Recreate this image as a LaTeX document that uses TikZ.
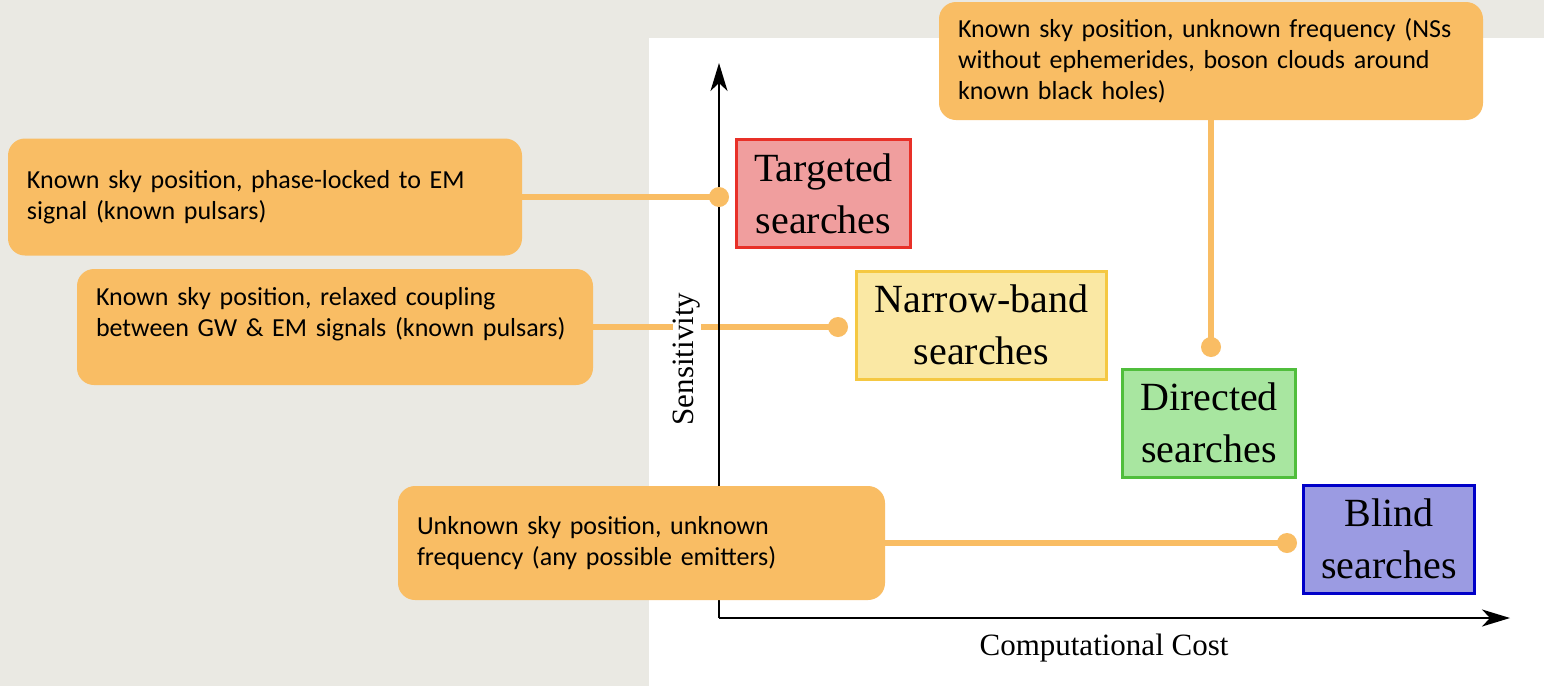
\documentclass[tikz,border=0pt]{standalone}
\usepackage{fontspec}
\setmainfont{Liberation Serif}
\newfontfamily\calloutfont{Carlito}
\usetikzlibrary{
  arrows.meta,
}
\definecolor{stonebg}{RGB}{234,233,227}
\definecolor{calloutfill}{RGB}{249,189,100}
\definecolor{targetfill}{RGB}{240,158,158}
\definecolor{targetline}{RGB}{232,48,40}
\definecolor{narrowfill}{RGB}{250,232,164}
\definecolor{narrowline}{RGB}{245,200,66}
\definecolor{directfill}{RGB}{168,230,160}
\definecolor{directline}{RGB}{80,190,60}
\definecolor{blindfill}{RGB}{155,155,226}
\definecolor{blindline}{RGB}{0,0,200}
\pgfdeclarelayer{panel}
\pgfdeclarelayer{links}
\pgfsetlayers{panel,links,main}
\tikzset{
  >={Stealth[length=28pt,width=17pt,inset=8pt]},
  callout/.style={rectangle,rounded corners=17pt,fill=calloutfill,align=left,
    inner xsep=19pt,inner ysep=0pt,font=\calloutfont\fontsize{26}{31}\selectfont},
  searchbox/.style={rectangle,draw,line width=3pt,minimum width=168pt,minimum height=108pt,
    inner xsep=18pt,align=center,font=\fontsize{40}{52}\selectfont},
  axis/.style={line width=2pt,->},
  axislabel/.style={font=\fontsize{31}{36}\selectfont,inner sep=0pt},
  link/.style={draw=calloutfill,line width=6pt},
  linkdot/.style={circle,fill=calloutfill,minimum size=20pt,inner sep=0pt},
}
\begin{document}
\begin{tikzpicture}[x=1pt,y=-1pt]

      \useasboundingbox (0,0) rectangle (1544,686);
      \begin{pgfonlayer}{panel}
        \fill[stonebg] (0,0) rectangle (1544,686);
        \fill[white] (649,38) rectangle (1544,686);
      \end{pgfonlayer}

      \coordinate (origin) at (719,618);
      \coordinate (ytip) at (719,63);
      \coordinate (xtip) at (1510,618);
      \draw[axis] (origin) -- (ytip);
      \draw[axis] (origin) -- (xtip);

      \node[axislabel] (costlabel) at (1104,648) {Computational Cost};
      \node[axislabel,rotate=90,fill=white] (senslabel) at (687,359) {Sensitivity};

      \node[searchbox,fill=targetfill,draw=targetline] (targeted) at (823.5,193.5) {Targeted\\searches};
      \node[searchbox,fill=narrowfill,draw=narrowline] (narrow) at (981.5,325) {Narrow-band\\searches};
      \node[searchbox,fill=directfill,draw=directline] (directed) at (1209,423) {Directed\\searches};
      \node[searchbox,fill=blindfill,draw=blindline] (blind) at (1389,539) {Blind\\searches};

      \node[callout,text width=476pt,minimum height=117pt] (callTargeted) at (265,197)
        {Known sky position, phase-locked to EM\\signal (known pulsars)};
      \node[callout,text width=478pt,minimum height=116pt] (callNarrow) at (335,327)
        {Known sky position, relaxed coupling\\between GW \& EM signals (known pulsars)\\\mbox{}};
      \node[callout,text width=506pt,minimum height=118pt] (callDirected) at (1211,61)
        {Known sky position, unknown frequency (NSs\\without ephemerides, boson clouds around\\known black holes)};
      \node[callout,text width=449pt,minimum height=114pt] (callBlind) at (641.5,543)
        {Unknown sky position, unknown\\frequency (any possible emitters)};

      \node[linkdot] (dotTargeted) at (719,197) {};
      \node[linkdot] (dotNarrow) at (838,327) {};
      \node[linkdot] (dotDirected) at (1211,347) {};
      \node[linkdot] (dotBlind) at (1287,543) {};

      \begin{pgfonlayer}{links}
        \draw[link] (callTargeted.east) -- (dotTargeted.center);
        \draw[link] (callNarrow.east) -- (dotNarrow.center);
        \draw[link] (callDirected.south) -- (dotDirected.center);
        \draw[link] (callBlind.east) -- (dotBlind.center);
      \end{pgfonlayer}

    \end{tikzpicture}
\end{document}
